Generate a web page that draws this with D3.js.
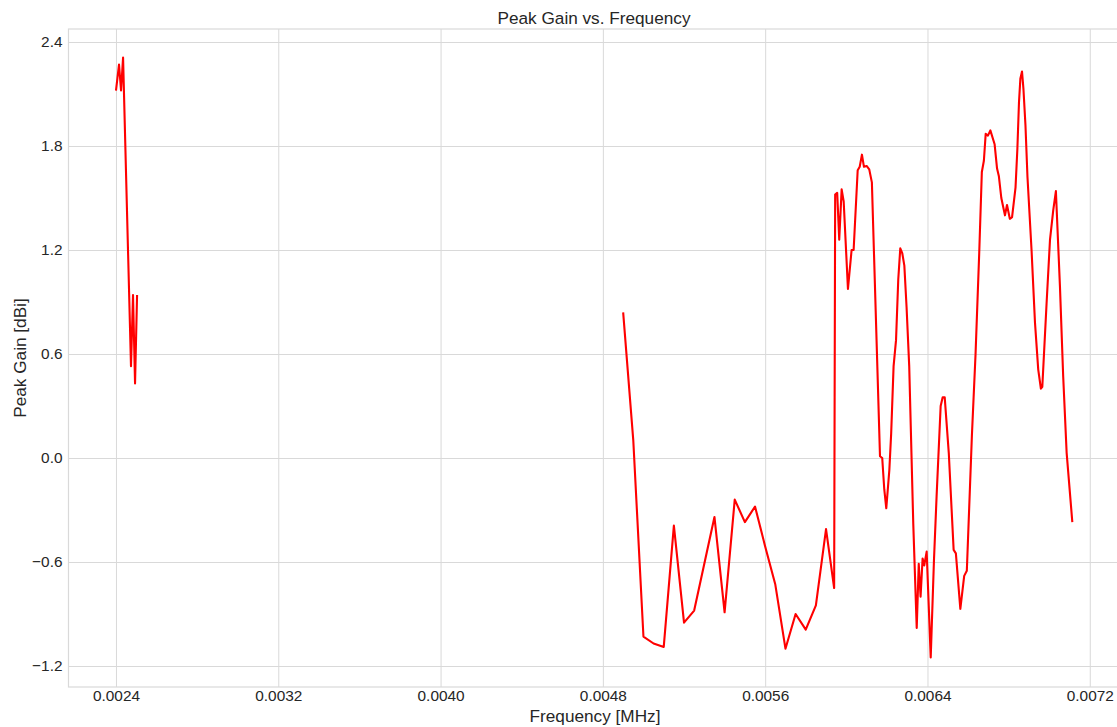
<!DOCTYPE html>
<html>
<head>
<meta charset="utf-8">
<script src="https://cdn.jsdelivr.net/npm/d3@7"></script>
<style>
  html, body { margin: 0; padding: 0; background: #ffffff; }
  svg { display: block; }
</style>
</head>
<body>
<svg id="chart" width="1117" height="727"></svg>
<script>
// ---- data ----
const freqLow = [0.002400, 0.002415, 0.002425, 0.002435, 0.002474, 0.002484, 0.002494, 0.002504];
const gainLow = [2.12, 2.27, 2.12, 2.31, 0.53, 0.94, 0.43, 0.94];

const freqHigh = [
  0.004900, 0.004950, 0.005000, 0.005050, 0.005100, 0.005150, 0.005200, 0.005250, 0.005300, 0.005350,
  0.005400, 0.005450, 0.005500, 0.005550, 0.005600, 0.005650, 0.005700, 0.005750, 0.005800, 0.005850,
  0.005900, 0.005940, 0.005945, 0.005955, 0.005965, 0.005977, 0.005987, 0.006008, 0.006026, 0.006036,
  0.006056, 0.006066, 0.006077, 0.006087, 0.006100, 0.006113, 0.006126, 0.006166, 0.006177, 0.006187,
  0.006197, 0.006212, 0.006221, 0.006233, 0.006245, 0.006256, 0.006266, 0.006276, 0.006286, 0.006297,
  0.006310, 0.006330, 0.006347, 0.006357, 0.006366, 0.006376, 0.006384, 0.006396, 0.006416, 0.006432,
  0.006445, 0.006465, 0.006475, 0.006485, 0.006505, 0.006529, 0.006540, 0.006562, 0.006581, 0.006594,
  0.006619, 0.006637, 0.006655, 0.006668, 0.006678, 0.006687, 0.006698, 0.006710, 0.006731, 0.006743,
  0.006752, 0.006764, 0.006782, 0.006792, 0.006806, 0.006817, 0.006834, 0.006843, 0.006851, 0.006858,
  0.006866, 0.006873, 0.006883, 0.006893, 0.006913, 0.006930, 0.006946, 0.006959, 0.006966, 0.006987,
  0.007004, 0.007020, 0.007033, 0.007053, 0.007069, 0.007086, 0.007114
];
const gainHigh = [
  0.84, 0.10, -1.03, -1.07, -1.09, -0.39, -0.95, -0.88, -0.61, -0.34,
  -0.89, -0.24, -0.37, -0.28, -0.51, -0.73, -1.10, -0.90, -0.99, -0.85,
  -0.41, -0.75, 1.52, 1.53, 1.26, 1.55, 1.48, 0.975, 1.20, 1.20,
  1.66, 1.68, 1.75, 1.68, 1.685, 1.665, 1.59, 0.01, 0.00, -0.18,
  -0.29, -0.07, 0.14, 0.53, 0.68, 1.03, 1.21, 1.18, 1.11, 0.87,
  0.53, -0.38, -0.98, -0.61, -0.80, -0.58, -0.62, -0.54, -1.15, -0.59,
  -0.22, 0.30, 0.35, 0.35, 0.03, -0.53, -0.55, -0.87, -0.68, -0.65,
  0.13, 0.60, 1.18, 1.65, 1.715, 1.87, 1.86, 1.89, 1.81, 1.67,
  1.625, 1.50, 1.40, 1.46, 1.38, 1.39, 1.56, 1.78, 2.05, 2.19,
  2.23, 2.13, 1.92, 1.62, 1.20, 0.78, 0.51, 0.40, 0.41, 0.89,
  1.26, 1.43, 1.54, 0.99, 0.47, 0.03, -0.37
];

const xTicks = [0.0024, 0.0032, 0.0040, 0.0048, 0.0056, 0.0064, 0.0072];
const yTicks = [-1.2, -0.6, 0.0, 0.6, 1.2, 1.8, 2.4];

const titleText = "Peak Gain vs. Frequency";
const xLabelText = "Frequency [MHz]";
const yLabelText = "Peak Gain [dBi]";

// ---- layout ----
const W = 1117, H = 727;
const plot = { left: 68.5, right: 1120, top: 29, bottom: 687 };
const gridColor = "#d9d9d9";
const textColor = "#262626";
const font = "'Liberation Sans', Arial, Helvetica, sans-serif";

const svg = d3.select("#chart");

const x = d3.scaleLinear().domain([0.002166, 0.007349]).range([plot.left, plot.right]);
const y = d3.scaleLinear().domain([-1.321, 2.475]).range([plot.bottom, plot.top]);

svg.append("defs").append("clipPath").attr("id", "clip")
  .append("rect")
  .attr("x", plot.left).attr("y", plot.top)
  .attr("width", plot.right - plot.left).attr("height", plot.bottom - plot.top);

svg.append("rect")
  .attr("x", plot.left).attr("y", plot.top)
  .attr("width", plot.right - plot.left).attr("height", plot.bottom - plot.top)
  .attr("fill", "#ffffff");

const xAxis = d3.axisBottom(x).tickValues(xTicks)
  .tickSize(-(plot.bottom - plot.top)).tickPadding(3)
  .tickFormat(d3.format(".4f"));
const gx = svg.append("g")
  .attr("transform", `translate(0,${plot.bottom})`)
  .call(xAxis);
gx.select(".domain").remove();
gx.selectAll(".tick line").attr("stroke", gridColor).attr("stroke-width", 1);
gx.selectAll(".tick text")
  .attr("fill", textColor)
  .style("font-family", font)
  .style("font-size", "15.4px");

const yFmt = d => d3.format(".1f")(d).replace("-", "\u2212");
const yAxis = d3.axisLeft(y).tickValues(yTicks)
  .tickSize(-(plot.right - plot.left)).tickPadding(6)
  .tickFormat(yFmt);
const gy = svg.append("g")
  .attr("transform", `translate(${plot.left},0)`)
  .call(yAxis);
gy.select(".domain").remove();
gy.selectAll(".tick line").attr("stroke", gridColor).attr("stroke-width", 1);
gy.selectAll(".tick text")
  .attr("fill", textColor)
  .style("font-family", font)
  .style("font-size", "15.4px");

svg.append("rect")
  .attr("x", plot.left).attr("y", plot.top)
  .attr("width", plot.right - plot.left).attr("height", plot.bottom - plot.top)
  .attr("fill", "none").attr("stroke", gridColor).attr("stroke-width", 1.2);

const line = d3.line().x(d => x(d[0])).y(d => y(d[1]));
const segs = [
  d3.zip(freqLow, gainLow),
  d3.zip(freqHigh, gainHigh)
];
svg.append("g").attr("clip-path", "url(#clip)")
  .selectAll("path").data(segs).join("path")
  .attr("d", line)
  .attr("fill", "none")
  .attr("stroke", "#ff0000")
  .attr("stroke-width", 2.1)
  .attr("stroke-linejoin", "round")
  .attr("stroke-linecap", "butt");

svg.append("text")
  .attr("x", 594).attr("y", 24)
  .attr("text-anchor", "middle")
  .attr("fill", textColor)
  .style("font-family", font).style("font-size", "17.2px")
  .text(titleText);

svg.append("text")
  .attr("x", 595).attr("y", 722)
  .attr("text-anchor", "middle")
  .attr("fill", textColor)
  .style("font-family", font).style("font-size", "17.2px")
  .text(xLabelText);

svg.append("text")
  .attr("transform", `translate(26,${(plot.top + plot.bottom) / 2}) rotate(-90)`)
  .attr("text-anchor", "middle")
  .attr("fill", textColor)
  .style("font-family", font).style("font-size", "17.2px")
  .text(yLabelText);
</script>
</body>
</html>
